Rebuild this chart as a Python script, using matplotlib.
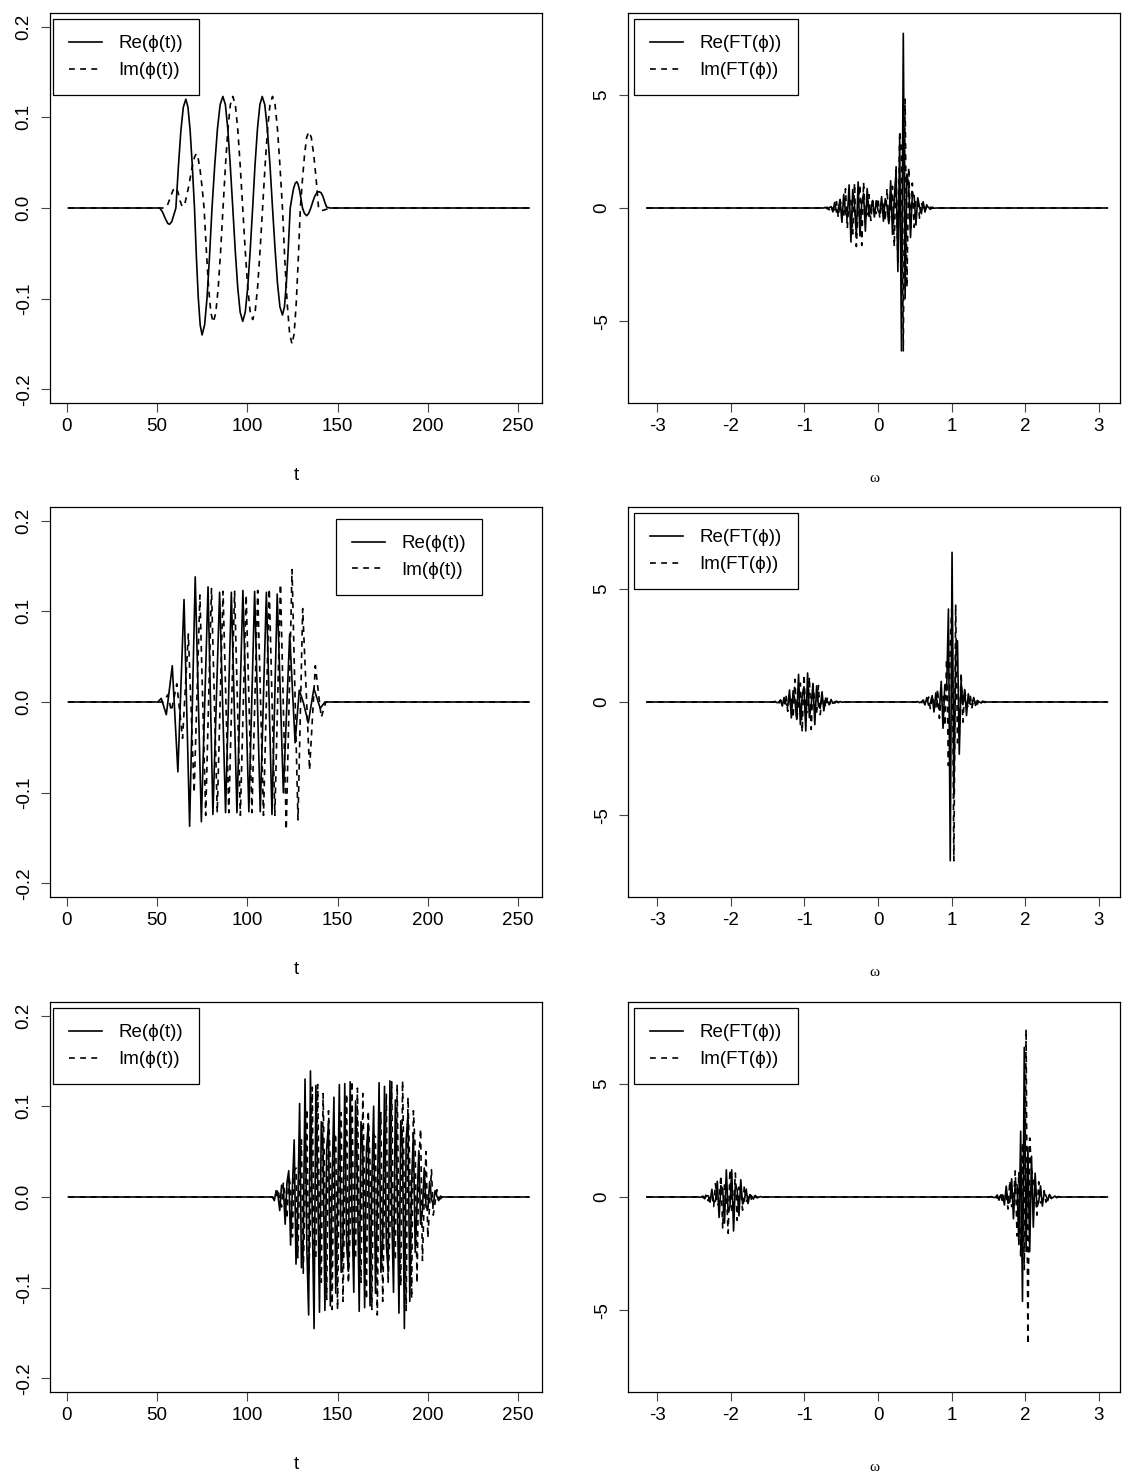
import numpy as np
import matplotlib.pyplot as plt

plt.rcParams['font.family'] = ['Liberation Sans', 'DejaVu Sans']
plt.rcParams['axes.unicode_minus'] = False

# ---- row 1, time domain: (t, value) points ----
a_re_t = [1, 51.5, 53, 54.5, 56, 57, 58.2, 59.3, 60.5, 61.9, 63.25, 64.6, 66, 67.2, 68.4, 69.6, 70.8,
          71.85, 72.9, 73.95, 75, 76.4, 77.75, 79.1, 80.5, 82, 83.5, 85, 86.5, 87.9, 89.25, 90.6, 92,
          93.4, 94.75, 96.1, 97.5, 98.9, 100.25, 101.6, 103, 104.3, 105.65, 107, 108.3, 109.7, 111.15,
          112.6, 114, 115.4, 116.75, 118.1, 119.5, 120.6, 121.65, 122.7, 123.8, 124.7, 125.6, 126.5,
          127.4, 128.2, 129, 129.8, 130.6, 131.7, 132.9, 134, 135.2, 136.3, 137.4, 138.6, 139.7, 140.8,
          141.9, 143, 144, 145.7, 256]
a_re_v = [0, 0, -0.004, -0.011, -0.017, -0.018, -0.015, -0.008, 0, 0.046, 0.085, 0.111, 0.120, 0.111,
          0.085, 0.046, 0, -0.054, -0.099, -0.129, -0.140, -0.129, -0.099, -0.054, 0, 0.047, 0.087,
          0.114, 0.123, 0.114, 0.087, 0.047, 0, -0.048, -0.088, -0.115, -0.125, -0.115, -0.088, -0.048,
          0, 0.047, 0.087, 0.114, 0.123, 0.114, 0.087, 0.047, 0, -0.045, -0.083, -0.109, -0.118, -0.109,
          -0.083, -0.045, 0, 0.011, 0.021, 0.027, 0.029, 0.026, 0.019, 0.010, 0, -0.006, -0.0085,
          -0.006, 0, 0.007, 0.013, 0.017, 0.018, 0.017, 0.013, 0.006, 0.001, 0, 0]
a_im_t = [1, 54.5, 56, 57.5, 59, 60.4, 61.6, 62.8, 64, 65.5, 67.5, 69.5, 70.8, 71.8, 72.8, 73.9, 75,
          76.1, 77.4, 78.65, 79.9, 81.2, 82.55, 83.9, 85.25, 86.6, 87.95, 89.3, 90.65, 92, 93.4, 94.75,
          96.1, 97.5, 98.9, 100.25, 101.6, 103, 104.4, 105.75, 107.1, 108.5, 109.9, 111.25, 112.6, 114,
          115.4, 116.75, 118.1, 119.5, 120.8, 122.15, 123.5, 124.8, 125.95, 127.1, 128.25, 129.4,
          130.6, 131.75, 132.9, 134.1, 135.45, 136.8, 138.15, 139.5, 141, 143, 145.5, 256]
a_im_v = [0, 0, 0.004, 0.012, 0.020, 0.0227, 0.018, 0.008, 0.0015, 0.005, 0.023, 0.045, 0.056, 0.060,
          0.055, 0.042, 0.023, 0, -0.048, -0.089, -0.116, -0.126, -0.116, -0.089, -0.048, 0, 0.047,
          0.087, 0.114, 0.123, 0.114, 0.087, 0.047, 0, -0.047, -0.087, -0.114, -0.123, -0.114, -0.087,
          -0.047, 0, 0.047, 0.087, 0.114, 0.123, 0.114, 0.087, 0.047, 0, -0.057, -0.106, -0.139,
          -0.150, -0.139, -0.106, -0.057, 0, 0.032, 0.059, 0.078, 0.084, 0.078, 0.059, 0.032, 0,
          -0.003, -0.002, 0, 0]

# ---- row 2, time domain: peaks and troughs ----
b_re_t = [1, 50.5, 52.4, 55.2, 58.5, 61.6, 65.0, 68.1, 71.2, 74.6, 78.3, 81.0, 84.7, 88.0, 91.2, 94.3,
          97.6, 100.9, 104.1, 107.2, 110.6, 113.7, 116.6, 120.0, 123.5, 126.5, 128.8, 131.0, 133.8,
          136.9, 140.4, 143.0, 256]
b_re_v = [0, 0, 0.004, -0.014, 0.040, -0.077, 0.113, -0.137, 0.138, -0.132, 0.127, -0.124, 0.121,
          -0.122, 0.121, -0.122, 0.123, -0.121, 0.122, -0.121, 0.121, -0.124, 0.119, -0.100, 0.075,
          -0.045, 0.013, 0.000, -0.023, 0.015, -0.007, 0, 0]
b_im_t = [1, 53.5, 56.0, 58.0, 61.0, 64.2, 67.4, 70.6, 73.8, 77.0, 80.2, 83.4, 86.6, 89.8, 93.0, 96.2,
          99.4, 102.6, 105.8, 109.0, 112.2, 115.3, 118.4, 121.6, 124.8, 128.1, 130.7, 134.5, 137.7,
          141.0, 143.5, 256]
b_im_v = [0, 0, 0.008, -0.010, 0.020, -0.040, 0.075, -0.100, 0.118, -0.125, 0.125, -0.122, 0.122,
          -0.122, 0.122, -0.125, 0.118, -0.122, 0.123, -0.125, 0.125, -0.125, 0.130, -0.141, 0.146,
          -0.130, 0.103, -0.075, 0.040, -0.017, 0, 0]

# ---- row 3, time domain: one value per sample, t = 115 ... 208 ----
c_start = 115
c_re = [-0.004, 0.007, 0.002, -0.015, 0.013, 0.010, -0.030, 0.016, 0.029, -0.053, 0.010, 0.063, -0.074,
        -0.013, 0.103, -0.078, -0.050, 0.130, -0.056, -0.130, 0.139, -0.021, -0.145, 0.123, 0.019,
        -0.127, 0.083, 0.051, -0.125, 0.053, 0.081, -0.120, 0.019, 0.110, -0.106, -0.016, 0.124,
        -0.083, -0.050, 0.125, -0.052, -0.082, 0.127, -0.018, -0.105, 0.106, 0.017, -0.126, 0.083,
        0.051, -0.122, 0.053, 0.081, -0.120, 0.019, 0.100, -0.106, -0.016, 0.126, -0.083, -0.050,
        0.122, -0.052, -0.082, 0.128, -0.018, -0.105, 0.107, 0.017, -0.128, 0.084, 0.055, -0.145,
        0.064, 0.091, -0.115, 0.015, 0.071, -0.061, -0.008, 0.051, -0.030, -0.015, 0.032, -0.011,
        -0.014, 0.017, -0.002, -0.009, 0.007, 0.001, -0.004, 0.001, 0.000]
c_im = [-0.002, -0.003, 0.009, -0.003, -0.011, 0.016, 0.000, -0.024, 0.024, 0.010, -0.044, 0.029, 0.032,
        -0.067, 0.022, 0.063, -0.084, 0.000, 0.097, -0.086, -0.033, 0.121, -0.068, -0.067, 0.124,
        -0.036, -0.094, 0.114, -0.001, -0.113, 0.095, 0.034, -0.124, 0.069, 0.066, -0.124, 0.037,
        0.093, -0.115, 0.000, 0.114, -0.095, -0.035, 0.128, -0.068, -0.067, 0.120, -0.036, -0.094,
        0.114, -0.001, -0.113, 0.095, 0.034, -0.124, 0.069, 0.066, -0.130, 0.037, 0.093, -0.115,
        0.000, 0.114, -0.095, -0.035, 0.127, -0.068, -0.067, 0.124, -0.037, -0.098, 0.128, -0.001,
        -0.125, 0.110, 0.032, -0.112, 0.095, 0.053, -0.095, 0.040, 0.075, -0.070, 0.000, 0.050,
        -0.045, -0.007, 0.030, -0.020, -0.006, 0.008, -0.001, -0.002, 0.000]

# ---- Fourier transforms: values on the 256-point frequency grid, zero elsewhere ----
ft1_start = 99
ft1_re = [0.03, -0.04, 0.015, 0.06, -0.17, 0.24, -0.18, -0.05, 0.38, -0.63, 0.60, -0.21, -0.43, 1.02,
          -1.50, 0.81, 0.11, -1.17, 1.15, -1.23, 0.27, 0.63, -1.02, 0.86, -0.37, -0.07, 0.33, -0.40,
          0.32, -0.11, -0.22, 0.50, -0.58, 0.41, 0.06, -0.69, 1.20, -1.16, 0.40, 1.60, -2.80, 3.00,
          -6.30, 7.70, -4.00, 1.50, 1.00, -1.30, 0.60, 0.55, -0.75, 0.45, 0.05, -0.25, 0.28, -0.18,
          0.08, 0.03, -0.06, 0.04, -0.01]
ft1_im = [0.00, 0.03, -0.08, 0.10, -0.07, -0.08, 0.28, -0.42, 0.35, -0.04, -0.44, 0.85, -0.90, 0.47,
          0.32, -1.14, 1.10, -1.70, 0.05, 1.02, -1.65, 1.14, -0.40, -0.28, 0.59, -0.55, 0.31, -0.02,
          -0.24, 0.44, -0.45, 0.23, 0.15, -0.57, 0.85, -0.72, 0.05, 0.96, -1.70, 1.90, -2.50, 3.40,
          2.50, -6.30, 4.80, -3.50, 1.80, -0.90, 1.10, -0.85, 0.30, 0.40, -0.45, 0.25, 0.00, -0.13,
          0.14, -0.10, 0.03, -0.02, 0.02]

ft2a_start = 71
ft2a_re = [0.03, -0.03, -0.01, 0.09, -0.18, 0.20, -0.08, -0.19, 0.53, -0.70, 0.50, 0.07, -0.77, 1.22,
           -1.00, 0.25, 0.67, -1.28, 1.28, -0.69, -0.16, 0.82, -1.00, 0.71, -0.18, -0.27, 0.45, -0.39,
           0.17, 0.02, -0.11, 0.11, -0.06, 0.01, 0.02, -0.03, 0.02, -0.01]
ft2a_im = [-0.01, 0.04, -0.08, 0.08, -0.01, -0.15, 0.33, -0.41, 0.24, 0.18, -0.70, 1.00, -0.81, 0.00,
           0.83, -1.33, 1.21, -0.51, -0.42, 1.10, -1.21, 0.76, -0.06, -0.52, 0.73, -0.56, 0.21, 0.10,
           -0.24, 0.22, -0.12, 0.00, 0.05, -0.05, 0.035, -0.01, -0.01, 0.01]
ft2b_start = 150
ft2b_re = [0.02, -0.03, 0.01, 0.05, -0.13, 0.19, -0.14, -0.04, 0.28, -0.44, 0.40, -0.15, -0.34, 0.91,
           -1.16, 0.76, 0.50, 4.10, -7.00, 6.60, -4.20, 2.00, 2.70, -2.30, 0.90, -0.12, 0.55, -0.60,
           0.36, -0.09, -0.12, 0.20, -0.15, 0.07, 0.01, -0.04, 0.04, -0.02, 0.00, 0.00]
ft2b_im = [0.00, 0.03, -0.06, 0.09, -0.05, -0.06, 0.22, -0.32, 0.26, -0.03, -0.30, 0.58, -0.72, 0.42,
           0.31, -1.06, 1.90, -2.80, 2.60, 4.40, -7.00, 4.30, -1.80, -1.50, 1.30, -0.89, 0.51, -0.03,
           -0.27, 0.34, -0.25, 0.09, 0.04, -0.10, 0.08, -0.04, 0.00, 0.02, -0.02, 0.00]

ft3a_start = 28
ft3a_re = [0.01, -0.01, -0.01, 0.04, -0.08, 0.06, 0.05, -0.23, 0.34, -0.22, -0.18, 0.69, -0.90, 0.50,
           0.35, -1.15, 1.20, -0.66, -0.42, 1.20, -1.50, 0.56, 0.32, -0.83, 0.76, -0.31, -0.15, 0.35,
           -0.29, 0.10, 0.04, -0.09, 0.07, -0.02, -0.01, 0.02, -0.01, 0.00]
ft3a_im = [0.00, -0.02, 0.03, -0.02, -0.02, 0.11, -0.17, 0.12, 0.11, -0.42, 0.59, -0.36, -0.28, 0.96,
           -1.40, 0.61, 0.41, -1.60, 1.20, -0.64, -0.38, 1.06, -1.03, 0.44, 0.24, -0.58, 0.50, -0.19,
           -0.09, 0.19, -0.14, 0.05, 0.02, -0.04, 0.03, -0.01, 0.00, 0.00]
ft3b_start = 191
ft3b_re = [0.02, -0.02, -0.02, 0.09, -0.14, 0.09, 0.09, -0.35, 0.48, -0.28, -0.22, 0.80, -0.96, 0.61,
           0.53, -2.10, 2.90, -4.60, 6.60, -2.40, 2.20, -2.40, 1.80, -1.33, 1.05, -0.42, -0.21, 0.49,
           -0.40, 0.15, 0.07, -0.16, 0.11, -0.04, -0.02, 0.04, -0.03, 0.01, 0.00, 0.00]
ft3b_im = [0.01, -0.04, 0.06, -0.05, -0.04, 0.18, -0.29, 0.19, 0.15, -0.53, 0.72, -0.42, -0.30, 1.15,
           -1.72, 1.10, -2.60, 2.40, -3.20, 7.40, -6.50, 2.60, 1.20, 0.70, 0.33, -0.80, 0.67, -0.26,
           -0.12, 0.28, -0.23, 0.08, 0.04, -0.07, 0.06, -0.02, -0.01, 0.02, -0.01, 0.00]

N = 256
t_all = np.arange(1, N + 1)
omega = -np.pi + 2 * np.pi * np.arange(N) / N


def place(parts):
    out = np.zeros(N)
    for start, vals in parts:
        out[start:start + len(vals)] = vals
    return out


c_re_all = place([(c_start - 1, c_re)])
c_im_all = place([(c_start - 1, c_im)])
ft_re = [place([(ft1_start, ft1_re)]),
         place([(ft2a_start, ft2a_re), (ft2b_start, ft2b_re)]),
         place([(ft3a_start, ft3a_re), (ft3b_start, ft3b_re)])]
ft_im = [place([(ft1_start, ft1_im)]),
         place([(ft2a_start, ft2a_im), (ft2b_start, ft2b_im)]),
         place([(ft3a_start, ft3a_im), (ft3b_start, ft3b_im)])]

time_series = [(a_re_t, a_re_v, a_im_t, a_im_v),
               (b_re_t, b_re_v, b_im_t, b_im_v),
               (t_all, c_re_all, t_all, c_im_all)]

W, H = 1130, 1475
fig = plt.figure(figsize=(W / 100, H / 100), dpi=100)


def box(x0, x1, y0, y1):
    return [x0 / W, 1 - y1 / H, (x1 - x0) / W, (y1 - y0) / H]


rows = [(13, 403), (507, 897), (1002, 1392)]
FS = 13.5
DASH = (0, (3.5, 3.2))


def style(ax):
    for s in ax.spines.values():
        s.set_linewidth(0.9)
        s.set_color('black')
    ax.tick_params(direction='out', length=6.5, width=0.8, labelsize=FS, color='#444444')
    ax.tick_params(axis='x', pad=4)
    ax.tick_params(axis='y', pad=6)


def legend(ax, labels, anchor):
    leg = ax.legend(labels, loc='upper left', bbox_to_anchor=anchor, borderaxespad=0,
                    fancybox=False, edgecolor='black', framealpha=1, fontsize=FS,
                    handlelength=1.75, handletextpad=0.9, borderpad=0.85, labelspacing=0.52)
    leg.get_frame().set_linewidth(0.9)


left_leg = [(0.006, 0.984), (0.581, 0.969), (0.006, 0.984)]

for i, (y0, y1) in enumerate(rows):
    # time domain
    ax = fig.add_axes(box(50, 542, y0, y1))
    rt, rv, it, iv = time_series[i]
    ax.plot(rt, rv, color='black', lw=1.2)
    ax.plot(it, iv, color='black', lw=1.2, ls=DASH)
    ax.set_xlim(-9.2, 263.2)
    ax.set_ylim(-0.215, 0.215)
    ax.set_xticks([0, 50, 100, 150, 200, 250])
    ax.set_yticks([-0.2, -0.1, 0.0, 0.1, 0.2])
    ax.set_yticklabels(['-0.2', '-0.1', '0.0', '0.1', '0.2'], rotation=90, va='center')
    ax.set_xlabel('t', fontsize=FS, labelpad=23)
    style(ax)
    legend(ax, ['Re(ϕ(t))', 'Im(ϕ(t))'], left_leg[i])

    # frequency domain
    ax = fig.add_axes(box(628, 1120, y0, y1))
    ax.plot(omega, ft_re[i], color='black', lw=1.2)
    ax.plot(omega, ft_im[i], color='black', lw=1.2, ls=DASH)
    ax.set_xlim(-3.398, 3.289)
    ax.set_ylim(-8.6, 8.6)
    ax.set_xticks([-3, -2, -1, 0, 1, 2, 3])
    ax.set_yticks([-5, 0, 5])
    ax.set_yticklabels(['-5', '0', '5'], rotation=90, va='center')
    ax.set_xlabel('ω', fontsize=11, family=['Liberation Serif', 'DejaVu Serif'], labelpad=27)
    style(ax)
    legend(ax, ['Re(FT(ϕ))', 'Im(FT(ϕ))'], (0.012, 0.984))

fig.savefig('out.png', dpi=100)
